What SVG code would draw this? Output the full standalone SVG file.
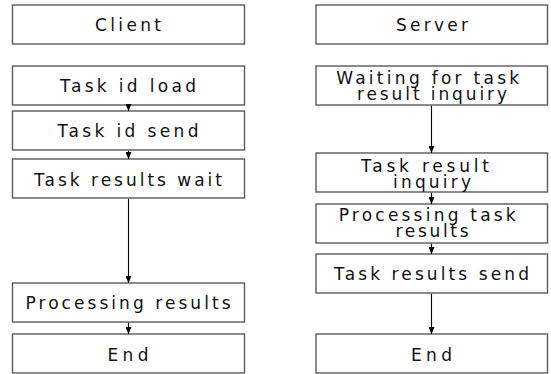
<svg xmlns="http://www.w3.org/2000/svg" width="551" height="374" viewBox="0 0 551 374">
  <style>
    .box { fill: #ffffff; stroke: #5a5a5a; stroke-width: 1.4; }
    .lbl { font-family: "DejaVu Sans", "Noto Sans CJK KR", sans-serif; font-size: 17px; fill: #111111; text-anchor: middle; }
    .edge { stroke: #000000; stroke-width: 1.1; fill: none; marker-end: url(#head); }
  </style>
  <defs>
    <marker id="head" markerUnits="userSpaceOnUse" markerWidth="8" markerHeight="6" refX="7" refY="3" orient="auto">
      <path d="M0,0 L7,3 L0,6 Z" fill="#000000"/>
    </marker>
  </defs>
  <rect x="0" y="0" width="551" height="374" fill="#ffffff"/>

  <!-- Client column -->
  <g id="client">
    <rect class="box" x="12.5" y="5" width="232" height="39"/>
    <text class="lbl" x="128" y="31" textLength="66" lengthAdjust="spacing">Client</text>
  </g>
  <g id="task-id-load">
    <rect class="box" x="12.5" y="66" width="232" height="39"/>
    <text class="lbl" x="128" y="91.5" textLength="136" lengthAdjust="spacing">Task id load</text>
  </g>
  <g id="task-id-send">
    <rect class="box" x="12.5" y="111" width="232" height="39"/>
    <text class="lbl" x="128" y="137" textLength="141" lengthAdjust="spacing">Task id send</text>
  </g>
  <g id="task-results-wait">
    <rect class="box" x="12.5" y="159" width="232" height="39"/>
    <text class="lbl" x="128" y="185.5" textLength="188" lengthAdjust="spacing">Task results wait</text>
  </g>
  <g id="processing-results">
    <rect class="box" x="12.5" y="283" width="232" height="39"/>
    <text class="lbl" x="128" y="309" textLength="205" lengthAdjust="spacing">Processing results</text>
  </g>
  <g id="client-end">
    <rect class="box" x="12.5" y="334" width="232" height="39"/>
    <text class="lbl" x="128" y="360.5" textLength="41" lengthAdjust="spacing">End</text>
  </g>

  <!-- Server column -->
  <g id="server">
    <rect class="box" x="316" y="5" width="231.5" height="39"/>
    <text class="lbl" x="432" y="31" textLength="72" lengthAdjust="spacing">Server</text>
  </g>
  <g id="waiting-inquiry">
    <rect class="box" x="316" y="66" width="231.5" height="39"/>
    <text class="lbl">
      <tspan x="432" y="83.5" textLength="183" lengthAdjust="spacing">Waiting for task</tspan>
      <tspan x="432" y="99.5" textLength="150" lengthAdjust="spacing">result inquiry</tspan>
    </text>
  </g>
  <g id="task-result-inquiry">
    <rect class="box" x="316" y="153" width="231.5" height="39"/>
    <text class="lbl">
      <tspan x="429.5" y="171.5" textLength="128" lengthAdjust="spacing">Task result</tspan>
      <tspan x="432" y="187.5" textLength="78" lengthAdjust="spacing">inquiry</tspan>
    </text>
  </g>
  <g id="processing-task-results">
    <rect class="box" x="316" y="204" width="231.5" height="39"/>
    <text class="lbl">
      <tspan x="431.5" y="220.5" textLength="177" lengthAdjust="spacing">Processing task</tspan>
      <tspan x="432" y="236.5" textLength="73" lengthAdjust="spacing">results</tspan>
    </text>
  </g>
  <g id="task-results-send">
    <rect class="box" x="316" y="254" width="231.5" height="39"/>
    <text class="lbl" x="431.5" y="280" textLength="195" lengthAdjust="spacing">Task results send</text>
  </g>
  <g id="server-end">
    <rect class="box" x="316" y="334" width="231.5" height="39"/>
    <text class="lbl" x="431.5" y="360.5" textLength="41" lengthAdjust="spacing">End</text>
  </g>

  <!-- Connectors -->
  <g id="connectors">
    <line class="edge" x1="128.5" y1="105.7" x2="128.5" y2="111"/>
    <line class="edge" x1="128.5" y1="150.7" x2="128.5" y2="159"/>
    <line class="edge" x1="128.5" y1="198.7" x2="128.5" y2="283"/>
    <line class="edge" x1="128.5" y1="322.7" x2="128.5" y2="334"/>
    <line class="edge" x1="431.5" y1="105.7" x2="431.5" y2="153"/>
    <line class="edge" x1="431.5" y1="192.7" x2="431.5" y2="204"/>
    <line class="edge" x1="431.5" y1="243.7" x2="431.5" y2="254"/>
    <line class="edge" x1="431.5" y1="293.7" x2="431.5" y2="334"/>
  </g>
</svg>
